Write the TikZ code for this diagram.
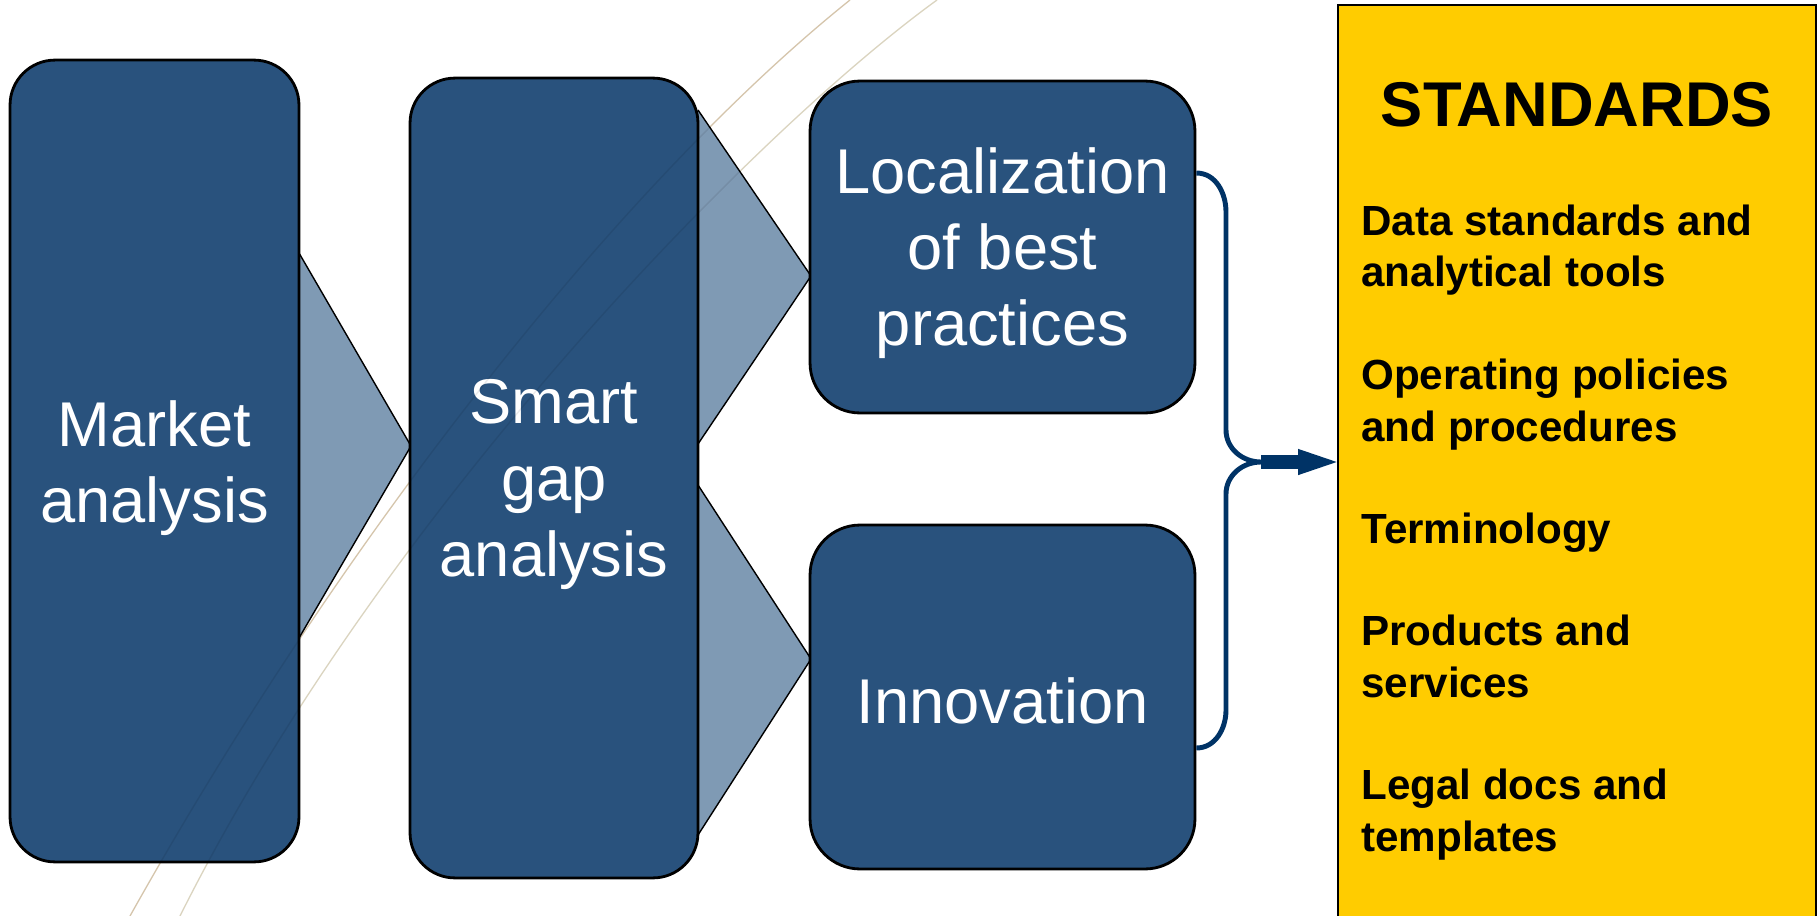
\documentclass[tikz,border=0pt]{standalone}
\usepackage{fontspec}
\setmainfont{Liberation Sans}
\usepackage{xcolor}
\usepackage{tikz}
\usetikzlibrary{arrows.meta, positioning, calc}

\definecolor{boxblue}{RGB}{41,82,125}
\definecolor{funnelblue}{RGB}{127,154,180}
\definecolor{bracenavy}{RGB}{0,51,102}
\definecolor{stdyellow}{RGB}{255,204,0}
\definecolor{arctan}{RGB}{232,214,186}
\definecolor{arcbeige}{RGB}{238,231,208}

\tikzset{
  phase/.style={draw=black, line width=1.6pt, fill=boxblue, inner sep=0pt},
  phasetext/.style={text=white, align=center, inner sep=0pt,
    font=\fontsize{36}{43.3}\selectfont},
  funnel/.style={draw=black, line width=0.8pt, fill=funnelblue},
  stditem/.style={anchor=north west, align=left, inner sep=0pt,
    font=\bfseries\fontsize{24}{29.2}\selectfont},
}

\begin{document}
\begin{tikzpicture}[x=0.02cm, y=-0.02cm, >=latex]
\useasboundingbox (0,0) rectangle (1819,916);

% Background arcs (behind)
\draw[arctan, line width=0.7pt] (130,916) .. controls (354,516) and (635,172) .. (850,0);
\draw[arcbeige, line width=0.7pt] (180,916) .. controls (380,516) and (751,135) .. (937,0);

% Funnels between the steps
\filldraw[funnel] (299,253) -- (411,446) -- (299,638);
\filldraw[funnel] (698,110) -- (811,276) -- (698,444);
\filldraw[funnel] (698,485) -- (811,659) -- (698,835);

% Steps
\node[phase, minimum width=5.78cm, minimum height=16.04cm, rounded corners=0.9cm]
  (market) at (154.5,461) {};
\node[phase, minimum width=5.76cm, minimum height=16cm, rounded corners=0.9cm]
  (smart) at (554,478) {};
\node[phase, minimum width=7.7cm, minimum height=6.64cm, rounded corners=1cm]
  (loc) at (1002.5,247) {};
\node[phase, minimum width=7.7cm, minimum height=6.88cm, rounded corners=1cm]
  (innov) at (1002.5,697) {};

\node[phasetext] (markettxt) at ([yshift=-0.15cm]market.center) {Market\\analysis};
\node[phasetext] (smarttxt) at ([yshift=-0.13cm]smart.center) {Smart\\gap\\analysis};
\node[phasetext] (loctxt) at ([yshift=-0.12cm]loc.center) {Localization\\of best\\practices};
\node[phasetext] (innovtxt) at ([yshift=-0.07cm]innov.center) {Innovation};

% Background arcs (faint, over the boxes)
\draw[black, opacity=0.08, line width=0.8pt] (130,916) .. controls (354,516) and (635,172) .. (850,0);
\draw[black, opacity=0.08, line width=0.8pt] (180,916) .. controls (380,516) and (751,135) .. (937,0);

% Standards box
\node[draw=black, line width=1.6pt, fill=stdyellow, minimum width=9.56cm,
  minimum height=18.8cm, inner sep=0pt] (standards) at (1577,475) {};
\node[anchor=base, inner sep=0pt, font=\bfseries\fontsize{36}{43}\selectfont]
  (stdtitle) at (1577,126) {STANDARDS};
\node[stditem] (data) at (1361,204.5) {Data standards and\\analytical tools};
\node[stditem] (oper) at (1361,359) {Operating policies\\and procedures};
\node[stditem] (term) at (1361,513) {Terminology};
\node[stditem] (prod) at (1361,615) {Products and\\services};
\node[stditem] (legal) at (1361,769) {Legal docs and\\templates};

% Brace joining both outcomes
\coordinate (fork) at (1261,462);
\draw[bracenavy, line width=2.8pt]
  (loc.east |- 0,173) to[out=0, in=90] (1226,212) -- (1226,430)
  to[out=-90, in=180] (fork) to[out=180, in=90] (1226,494) -- (1226,710)
  to[out=-90, in=0] (innov.east |- 0,748);

% Arrow into the standards
\draw[bracenavy, line width=8pt, -{Triangle[length=22pt, width=15pt, line width=0pt]}]
  (fork) -- (standards.west |- fork);

\end{tikzpicture}
\end{document}
